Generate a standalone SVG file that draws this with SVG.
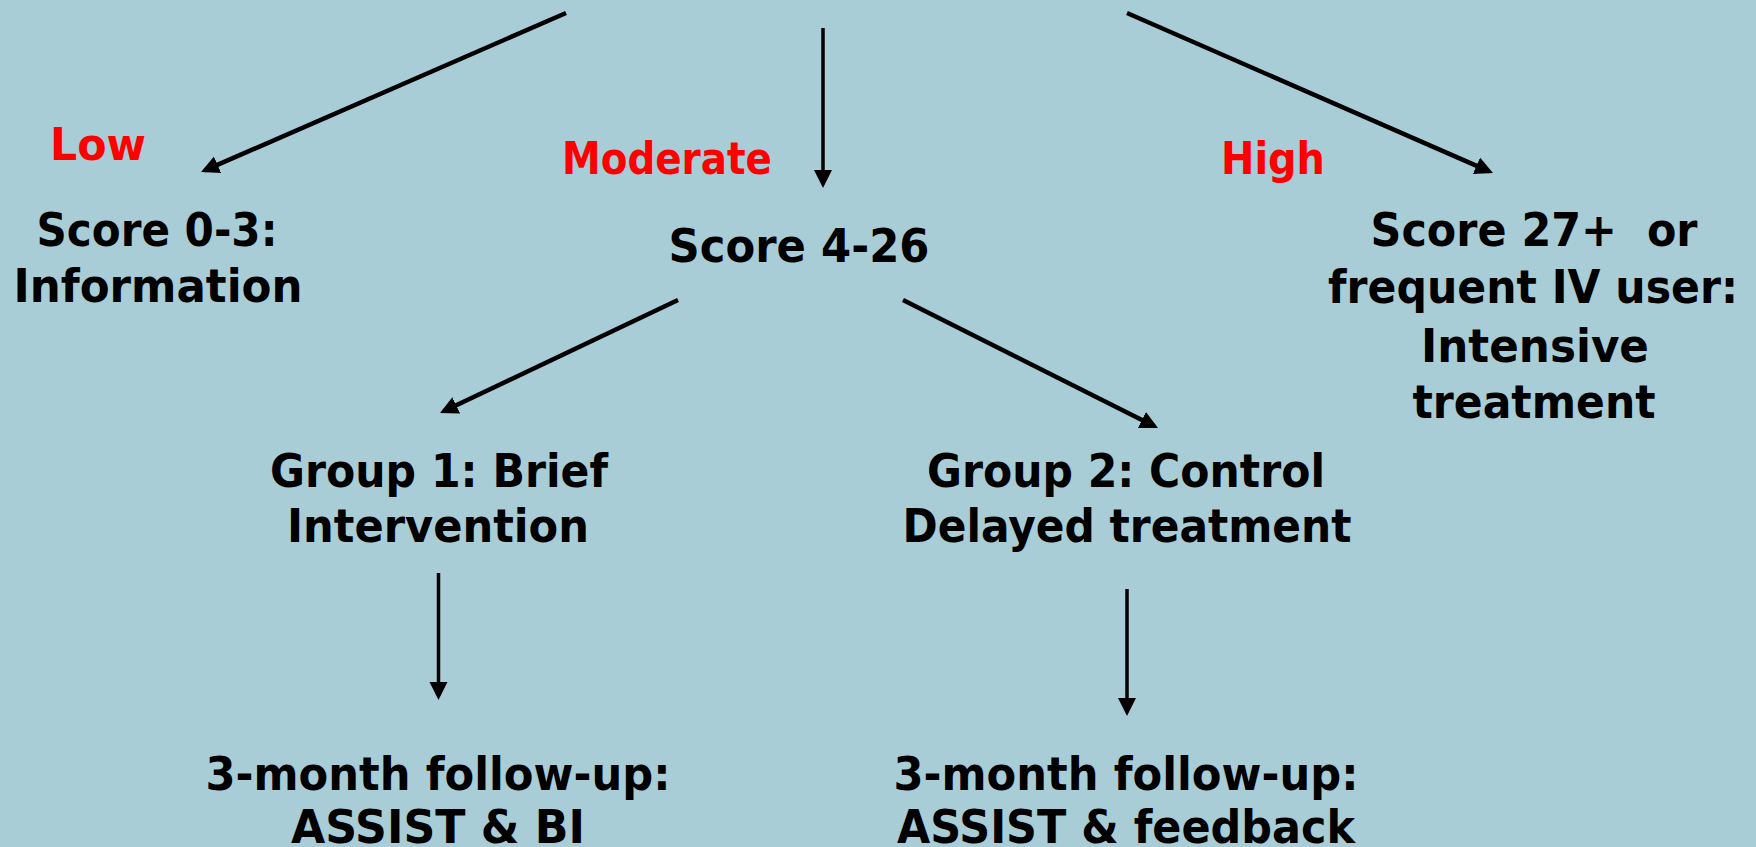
<svg xmlns="http://www.w3.org/2000/svg" width="1756" height="847" viewBox="0 0 1756 847">
<defs>
<style>
.bg{fill:#a9cdd7}
.t{font-family:"DejaVu Sans","Verdana",sans-serif;font-weight:bold;font-size:47px;fill:#000;text-anchor:middle}
.r{font-family:"DejaVu Sans","Verdana",sans-serif;font-weight:bold;font-size:45px;fill:#ff0000}
.c{stroke:#000;fill:none}
.d{stroke-width:4.5}
.v{stroke-width:3.5}
</style>
<marker id="ah" markerUnits="userSpaceOnUse" markerWidth="20" markerHeight="20" refX="14" refY="9" orient="auto">
<path d="M0,0 L18,9 L0,18 z" fill="#000"/>
</marker>
</defs>
<rect class="bg" x="0" y="0" width="1756" height="847"/>
<g id="connectors">
<line class="c d" x1="566" y1="13" x2="204.7" y2="170.4" marker-end="url(#ah)"/>
<line class="c v" x1="823" y1="28" x2="823" y2="184" marker-end="url(#ah)"/>
<line class="c d" x1="1127" y1="13" x2="1489.3" y2="171.4" marker-end="url(#ah)"/>
<line class="c d" x1="678" y1="300" x2="443.6" y2="411.3" marker-end="url(#ah)"/>
<line class="c d" x1="903" y1="300" x2="1154.4" y2="426.2" marker-end="url(#ah)"/>
<line class="c v" x1="438.5" y1="573" x2="438.5" y2="696" marker-end="url(#ah)"/>
<line class="c v" x1="1127" y1="589" x2="1127" y2="712" marker-end="url(#ah)"/>
</g>
<g id="labels">
<text class="r" x="50" y="160" textLength="96" lengthAdjust="spacingAndGlyphs">Low</text>
<text class="r" x="562" y="174" textLength="210" lengthAdjust="spacingAndGlyphs">Moderate</text>
<text class="r" x="1221" y="174" textLength="104" lengthAdjust="spacingAndGlyphs">High</text>
</g>
<g id="node-low">
<text class="t" x="157" y="246" textLength="241" lengthAdjust="spacingAndGlyphs">Score 0-3:</text>
<text class="t" x="158" y="302" textLength="289" lengthAdjust="spacingAndGlyphs">Information</text>
</g>
<g id="node-moderate">
<text class="t" x="799" y="262" textLength="261" lengthAdjust="spacingAndGlyphs">Score 4-26</text>
</g>
<g id="node-high">
<text class="t" x="1534" y="246" xml:space="preserve" textLength="327" lengthAdjust="spacingAndGlyphs">Score 27+  or</text>
<text class="t" x="1533" y="303" textLength="410" lengthAdjust="spacingAndGlyphs">frequent IV user:</text>
<text class="t" x="1535" y="362" textLength="228" lengthAdjust="spacingAndGlyphs">Intensive</text>
<text class="t" x="1534" y="418" textLength="243" lengthAdjust="spacingAndGlyphs">treatment</text>
</g>
<g id="node-group1">
<text class="t" x="439" y="487" textLength="338" lengthAdjust="spacingAndGlyphs">Group 1: Brief</text>
<text class="t" x="438" y="542" textLength="302" lengthAdjust="spacingAndGlyphs">Intervention</text>
</g>
<g id="node-group2">
<text class="t" x="1126" y="487" textLength="398" lengthAdjust="spacingAndGlyphs">Group 2: Control</text>
<text class="t" x="1127" y="542" textLength="449" lengthAdjust="spacingAndGlyphs">Delayed treatment</text>
</g>
<g id="node-followup1">
<text class="t" x="438" y="790" textLength="465" lengthAdjust="spacingAndGlyphs">3-month follow-up:</text>
<text class="t" x="438" y="843" textLength="294" lengthAdjust="spacingAndGlyphs">ASSIST &amp; BI</text>
</g>
<g id="node-followup2">
<text class="t" x="1126" y="790" textLength="465" lengthAdjust="spacingAndGlyphs">3-month follow-up:</text>
<text class="t" x="1126" y="843" textLength="458" lengthAdjust="spacingAndGlyphs">ASSIST &amp; feedback</text>
</g>
</svg>
